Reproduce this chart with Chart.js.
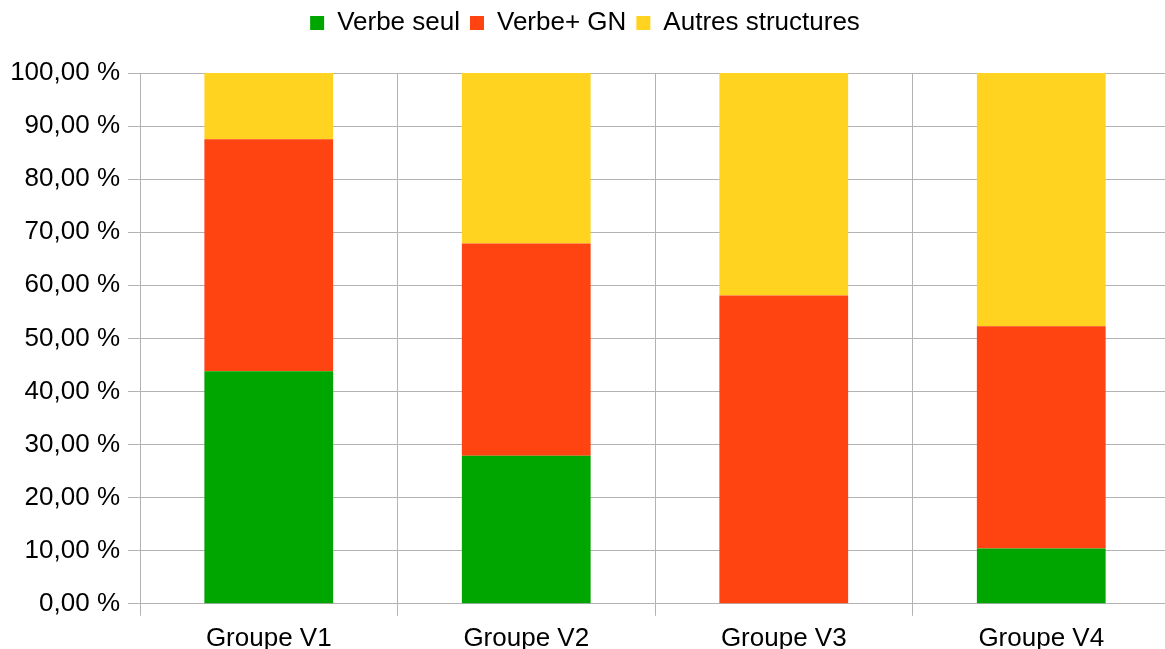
<!DOCTYPE html>
<html>
<head>
<meta charset="utf-8">
<script src="https://cdn.jsdelivr.net/npm/chart.js@4"></script>
<style>
  html, body { margin: 0; padding: 0; background: #fff; overflow: hidden; }
  /* the original plot runs slightly past the right and bottom edges */
  #wrap { width: 1170px; height: 661px; }
</style>
</head>
<body>
<div id="wrap"><canvas id="chart"></canvas></div>
<script>
const categories = ["Groupe V1", "Groupe V2", "Groupe V3", "Groupe V4"];
const verbeSeul = [43.8, 27.9, 0, 10.4];
const verbeGN = [43.7, 40.0, 58.1, 41.9];
const autres = [12.5, 32.1, 41.9, 47.7];
const seriesNames = ["Verbe seul", "Verbe+ GN", "Autres structures"];
const colors = ["#00a600", "#ff4311", "#ffd320"];

const gridColor = "#b3b3b3";
const fontFamily = "'Liberation Sans', Arial, sans-serif";

// push the plot down a bit under the legend
const legendSpacer = {
    id: "legendSpacer",
    beforeInit(chart) {
        const fit = chart.legend.fit;
        chart.legend.fit = function () {
            fit.bind(chart.legend)();
            this.height += 27;
        };
    }
};

const ctx = document.getElementById("chart");
new Chart(ctx, {
    type: "bar",
    data: {
        labels: categories,
        datasets: [
            { label: seriesNames[0], data: verbeSeul, backgroundColor: colors[0] },
            { label: seriesNames[1], data: verbeGN, backgroundColor: colors[1] },
            { label: seriesNames[2], data: autres, backgroundColor: colors[2] }
        ]
    },
    options: {
        responsive: true,
        maintainAspectRatio: false,
        animation: false,
        layout: { padding: { left: 0, right: 0, top: 0, bottom: 0 } },
        datasets: {
            bar: { categoryPercentage: 0.5, barPercentage: 1.0 }
        },
        plugins: {
            tooltip: { enabled: false },
            legend: {
                position: "top",
                labels: {
                    color: "#000",
                    font: { family: fontFamily, size: 26 },
                    boxWidth: 14,
                    boxHeight: 14,
                    padding: 10
                }
            }
        },
        scales: {
            x: {
                stacked: true,
                grid: {
                    offset: true,
                    color: gridColor,
                    tickLength: 12,
                    drawTicks: true
                },
                border: { color: gridColor },
                ticks: {
                    color: "#000",
                    font: { family: fontFamily, size: 26 },
                    padding: 7
                }
            },
            y: {
                stacked: true,
                min: 0,
                max: 100,
                afterFit(scale) { scale.width = 140; },
                grid: { color: gridColor, tickLength: 12 },
                border: { color: gridColor },
                ticks: {
                    stepSize: 10,
                    color: "#000",
                    font: { family: fontFamily, size: 26 },
                    padding: 8,
                    callback: (v) => v.toFixed(2).replace(".", ",") + " %"
                }
            }
        }
    },
    plugins: [legendSpacer]
});
</script>
</body>
</html>
